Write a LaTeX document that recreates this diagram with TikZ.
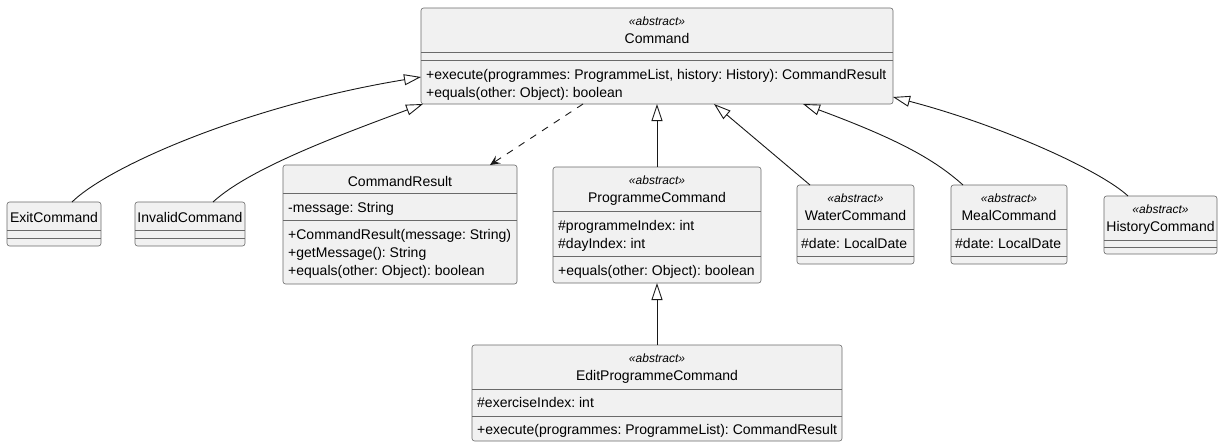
\documentclass[tikz,border=0pt]{standalone}
\usepackage{fontspec}
\setmainfont{Liberation Sans}
\usetikzlibrary{arrows.meta}
\definecolor{boxfill}{HTML}{F1F1F1}
\definecolor{linec}{HTML}{181818}
\definecolor{boxline}{HTML}{6A6A6A}
\frenchspacing
\begin{document}
\begin{tikzpicture}[x=1pt,y=-1pt,
  cls/.style={draw=boxline, fill=boxfill, line width=0.6pt, rounded corners=2.5pt, inner sep=0pt, outer sep=0pt, anchor=north west},
  nm/.style={font=\fontsize{14}{16}\selectfont, inner sep=0pt, anchor=base},
  mem/.style={font=\fontsize{14}{16}\selectfont, inner sep=0pt, anchor=base west},
  st/.style={font=\fontsize{12}{14}\selectfont\itshape, inner sep=0pt, anchor=base},
  divider/.style={draw=boxline, line width=0.6pt},
  inh/.style={draw=linec, line width=0.9pt, -{Triangle[open, length=17pt, width=11pt]}},
  dep/.style={draw=linec, line width=0.9pt, dash pattern=on 7pt off 7pt, -{Stealth[length=10pt, width=9pt, inset=4pt]}}]
\useasboundingbox (0,0) rectangle (1223,447);

% Command
\node[cls, minimum width=472pt, minimum height=96pt] (cmd) at (421,8) {};
\node[st] (cmdst) at (657,25) {«abstract»};
\node[nm] (cmdnm) at (657,43) {Command};
\draw[divider] (421,52) -- (893,52);
\draw[divider] (421,60) -- (893,60);
\node[mem] (cmdm1) at (426,79) {+execute(programmes: ProgrammeList, history: History): CommandResult};
\node[mem] (cmdm2) at (426,97) {+equals(other: Object): boolean};

% ExitCommand
\node[cls, minimum width=94pt, minimum height=44pt] (exit) at (7,202) {};
\node[nm] (exitnm) at (54,222) {ExitCommand};
\draw[divider] (7,230) -- (101,230);
\draw[divider] (7,238) -- (101,238);

% InvalidCommand
\node[cls, minimum width=110pt, minimum height=44pt] (inv) at (135,202) {};
\node[nm] (invnm) at (190,222) {InvalidCommand};
\draw[divider] (135,230) -- (245,230);
\draw[divider] (135,238) -- (245,238);

% CommandResult
\node[cls, minimum width=234pt, minimum height=119pt] (cr) at (283,165) {};
\node[nm] (crnm) at (400,186) {CommandResult};
\draw[divider] (283,193) -- (517,193);
\node[mem] (cra1) at (288,212) {-message: String};
\draw[divider] (283,220) -- (517,220);
\node[mem] (crm1) at (288,239) {+CommandResult(message: String)};
\node[mem] (crm2) at (288,257) {+getMessage(): String};
\node[mem] (crm3) at (288,275) {+equals(other: Object): boolean};

% ProgrammeCommand
\node[cls, minimum width=208pt, minimum height=116pt] (pc) at (553,167) {};
\node[st] (pcst) at (657,184) {«abstract»};
\node[nm] (pcnm) at (657,202) {ProgrammeCommand};
\draw[divider] (553,211) -- (761,211);
\node[mem] (pca1) at (558,230) {\#programmeIndex: int};
\node[mem] (pca2) at (558,248) {\#dayIndex: int};
\draw[divider] (553,256) -- (761,256);
\node[mem] (pcm1) at (558,275) {+equals(other: Object): boolean};

% WaterCommand
\node[cls, minimum width=117pt, minimum height=79pt] (wat) at (797,185) {};
\node[st] (watst) at (855.5,202) {«abstract»};
\node[nm] (watnm) at (855.5,220) {WaterCommand};
\draw[divider] (797,229) -- (914,229);
\node[mem] (wata1) at (801,248) {\#date: LocalDate};
\draw[divider] (797,256) -- (914,256);

% MealCommand
\node[cls, minimum width=116pt, minimum height=79pt] (meal) at (951,185) {};
\node[st] (mealst) at (1009,202) {«abstract»};
\node[nm] (mealnm) at (1009,220) {MealCommand};
\draw[divider] (951,229) -- (1067,229);
\node[mem] (meala1) at (955,248) {\#date: LocalDate};
\draw[divider] (951,256) -- (1067,256);

% HistoryCommand
\node[cls, minimum width=113pt, minimum height=58pt] (hist) at (1104,196) {};
\node[st] (histst) at (1160.5,213) {«abstract»};
\node[nm] (histnm) at (1160.5,231) {HistoryCommand};
\draw[divider] (1104,240) -- (1217,240);
\draw[divider] (1104,247) -- (1217,247);

% EditProgrammeCommand
\node[cls, minimum width=370pt, minimum height=96pt] (edit) at (472,345) {};
\node[st] (editst) at (657,362) {«abstract»};
\node[nm] (editnm) at (657,380) {EditProgrammeCommand};
\draw[divider] (472,389) -- (842,389);
\node[mem] (edita1) at (477,407) {\#exerciseIndex: int};
\draw[divider] (472,416) -- (842,416);
\node[mem] (editm1) at (477,434) {+execute(programmes: ProgrammeList): CommandResult};

% connectors
\draw[inh] ([xshift=18pt]exit.north) .. controls (110,165) and (250,105) .. ([yshift=-21pt]cmd.west);
\draw[inh] ([xshift=23pt]inv.north) .. controls (250,168) and (340,135) .. ([xshift=2pt]cmd.south west);
\draw[dep] ([xshift=-74pt]cmd.south) -- ([xshift=90pt]cr.north);
\draw[inh] (pc.north) -- (cmd.south);
\draw[inh] ([xshift=-45.5pt]wat.north) -- ([xshift=57pt]cmd.south);
\draw[inh] ([xshift=-46pt]meal.north) .. controls (935,160) and (900,140) .. ([xshift=146pt]cmd.south);
\draw[inh] ([xshift=-32.5pt]hist.north) .. controls (1100,170) and (1000,125) .. ([yshift=-41pt]cmd.east);
\draw[inh] (edit.north) -- (pc.south);
\end{tikzpicture}
\end{document}
